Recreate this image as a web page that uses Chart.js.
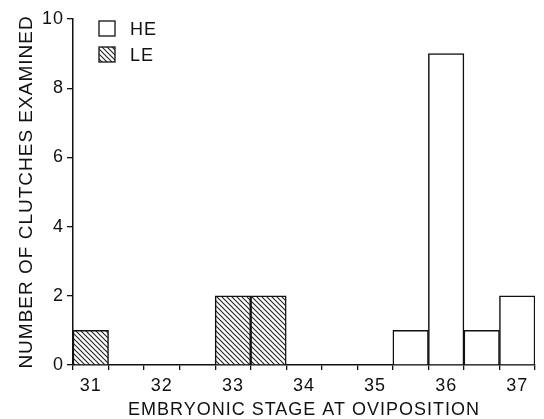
<!DOCTYPE html>
<html>
<head>
<meta charset="utf-8">
<script src="https://cdn.jsdelivr.net/npm/chart.js@4/dist/chart.umd.min.js"></script>
<style>
  html, body { margin: 0; padding: 0; background: #fff; }
  #wrap { width: 544px; height: 419px; }
</style>
</head>
<body>
<div id="wrap"><canvas id="chart" width="544" height="419"></canvas></div>
<script>
// half-stage bins
const stages = ['31', '31.5', '32', '32.5', '33', '33.5', '34', '34.5', '35', '35.5', '36', '36.5', '37'];
const heValues = [null, null, null, null, null, null, null, null, null, 1, 9, 1, 2];
const leValues = [1, null, null, null, 2, 2, null, null, null, null, null, null, null];
const yTicks = [0, 2, 4, 6, 8, 10];

const FONT = 'Liberation Sans, Arial, Helvetica, sans-serif';
const INK = '#111';

// diagonal hatch "\\\\"
function makeHatch() {
    const c = document.createElement('canvas');
    c.width = 5; c.height = 5;
    const g = c.getContext('2d');
    g.fillStyle = '#fff';
    g.fillRect(0, 0, 5, 5);
    g.strokeStyle = '#222';
    g.lineWidth = 1.1;
    g.beginPath();
    g.moveTo(-1, -1); g.lineTo(6, 6);
    g.moveTo(-1, 4); g.lineTo(1, 6);
    g.moveTo(4, -1); g.lineTo(6, 1);
    g.stroke();
    return g.createPattern(c, 'repeat');
}
const hatch = makeHatch();

const spacingPlugin = {
    id: 'spacing',
    beforeLayout(chart) { chart.ctx.letterSpacing = '1px'; },
    beforeDraw(chart) { chart.ctx.letterSpacing = '1px'; }
};

// legend inside the plot, top-left
const boxLegend = {
    id: 'boxLegend',
    afterDraw(chart) {
        const { ctx, chartArea } = chart;
        ctx.save();
        chart.data.datasets.forEach((ds, i) => {
            const x = chartArea.left + 26;
            const y = chartArea.top + 2 + i * 26;
            ctx.fillStyle = ds.backgroundColor;
            ctx.fillRect(x, y, 16, 15);
            ctx.strokeStyle = INK;
            ctx.lineWidth = 1.3;
            ctx.strokeRect(x, y, 16, 15);
            ctx.fillStyle = INK;
            ctx.font = '18px ' + FONT;
            ctx.textBaseline = 'middle';
            ctx.fillText(ds.label, x + 31, y + 9);
        });
        ctx.restore();
    }
};

new Chart(document.getElementById('chart'), {
    type: 'bar',
    data: {
        labels: stages,
        datasets: [
            {
                label: 'HE',
                data: heValues,
                backgroundColor: '#fff',
                borderColor: INK,
                borderWidth: 1.5,
                barPercentage: 1,
                categoryPercentage: 1
            },
            {
                label: 'LE',
                data: leValues,
                backgroundColor: hatch,
                borderColor: INK,
                borderWidth: 1.5,
                barPercentage: 1,
                categoryPercentage: 1
            }
        ]
    },
    options: {
        responsive: false,
        animation: false,
        layout: { padding: { left: 0, right: 9, top: 19, bottom: 0 } },
        plugins: {
            legend: { display: false },
            tooltip: { enabled: false }
        },
        scales: {
            x: {
                stacked: true,
                offset: true,
                afterFit: s => { s.height = 54; },
                border: { display: true, color: INK, width: 1.5 },
                grid: {
                    offset: true,
                    drawOnChartArea: false,
                    drawTicks: true,
                    tickLength: 5,
                    color: INK,
                    lineWidth: 1.3
                },
                ticks: {
                    autoSkip: false,
                    maxRotation: 0,
                    padding: 5,
                    color: INK,
                    font: { family: FONT, size: 18 },
                    callback: function (v) {
                        const l = this.getLabelForValue(v);
                        return l.indexOf('.') < 0 ? l : '';
                    }
                },
                title: {
                    display: true,
                    text: 'EMBRYONIC STAGE AT OVIPOSITION',
                    color: INK,
                    font: { family: FONT, size: 18, lineHeight: 1 },
                    padding: { top: 0, bottom: 0 }
                }
            },
            y: {
                stacked: true,
                min: 0,
                max: 10,
                afterFit: s => { s.width = 73; },
                afterBuildTicks: s => { s.ticks = yTicks.map(v => ({ value: v })); },
                border: { display: true, color: INK, width: 1.5 },
                grid: {
                    drawOnChartArea: false,
                    drawTicks: true,
                    tickLength: 6,
                    color: INK,
                    lineWidth: 1.3
                },
                ticks: {
                    padding: 3,
                    color: INK,
                    font: { family: FONT, size: 18 }
                },
                title: {
                    display: true,
                    text: 'NUMBER OF CLUTCHES EXAMINED',
                    color: INK,
                    font: { family: FONT, size: 19, lineHeight: 1 },
                    padding: { top: 17, bottom: 0 }
                }
            }
        }
    },
    plugins: [spacingPlugin, boxLegend]
});
</script>
</body>
</html>
